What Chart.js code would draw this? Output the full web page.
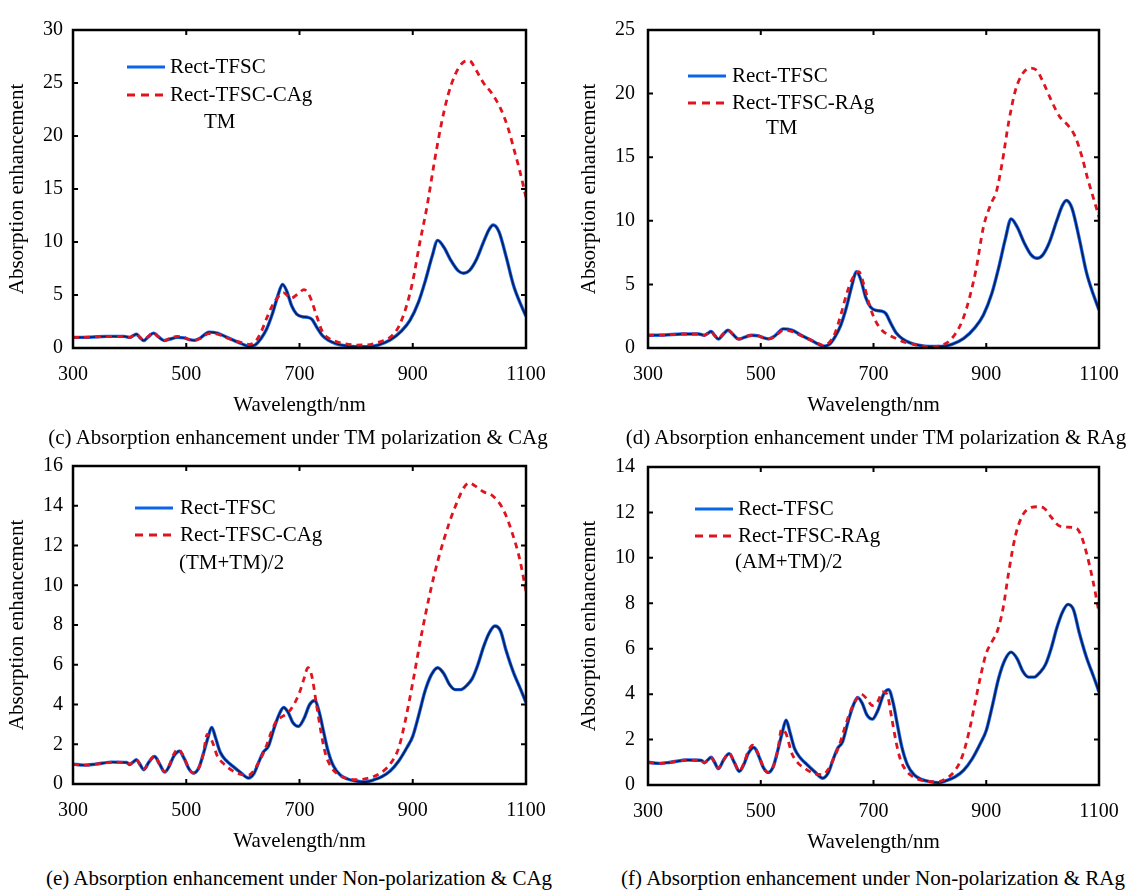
<!DOCTYPE html>
<html>
<head>
<meta charset="utf-8">
<title>Absorption enhancement</title>
<script src="https://cdn.jsdelivr.net/npm/chart.js@4.4.1/dist/chart.umd.min.js"></script>
<style>
  body { margin: 0; background: #fff; }
  #page { position: relative; width: 1136px; height: 895px; overflow: hidden; font-family: 'Liberation Serif', 'Times New Roman', serif; color: #000; }
  .panel { position: absolute; }
  .caption { position: absolute; font-size: 21px; line-height: 1; white-space: nowrap; transform: translateX(-50%); }
</style>
</head>
<body>
<div id="page">
  <span style="position:absolute;left:39px;top:-4px;font-size:14px">`</span>
  <canvas id="chartC" class="panel" width="568" height="420" style="left:0;top:0"></canvas>
  <canvas id="chartD" class="panel" width="568" height="420" style="left:568px;top:0"></canvas>
  <canvas id="chartE" class="panel" width="568" height="420" style="left:0;top:436px"></canvas>
  <canvas id="chartF" class="panel" width="568" height="420" style="left:568px;top:437px"></canvas>
  <div class="caption" style="left:298px;top:427px">(c) Absorption enhancement under TM polarization &amp; CAg</div>
  <div class="caption" style="left:876px;top:427px">(d) Absorption enhancement under TM polarization &amp; RAg</div>
  <div class="caption" style="left:299px;top:868px">(e) Absorption enhancement under Non-polarization &amp; CAg</div>
  <div class="caption" style="left:873px;top:868px">(f) Absorption enhancement under Non-polarization &amp; RAg</div>
</div>
<script>
// values (wavelength in nm, absorption enhancement)

// Rect-TFSC, TM polarization (panels c and d)
var tmBaseWl = [300, 330, 360, 390, 400, 406, 412, 418, 425, 433, 442, 450, 461, 472, 484, 496, 505, 514, 525, 540, 555, 570, 585, 598, 611, 622, 632, 642, 652, 661, 670, 678, 686, 695, 705, 714, 722, 730, 740, 752, 765, 780, 800, 820, 840, 860, 880, 895, 910, 922, 934, 944, 955, 967, 980, 990, 1000, 1012, 1025, 1035, 1042, 1052, 1065, 1078, 1090, 1100];
var tmBaseVal = [1.0, 1.02, 1.1, 1.1, 1.0, 1.15, 1.3, 1.0, 0.7, 1.05, 1.4, 1.1, 0.7, 0.85, 1.0, 0.95, 0.8, 0.72, 0.95, 1.5, 1.4, 1.05, 0.7, 0.4, 0.15, 0.3, 0.9, 1.8, 3.2, 4.8, 6.0, 5.3, 4.0, 3.2, 2.95, 2.9, 2.7, 2.0, 1.2, 0.7, 0.4, 0.22, 0.12, 0.12, 0.3, 0.75, 1.6, 2.6, 4.3, 6.3, 8.6, 10.15, 9.5, 8.3, 7.3, 7.05, 7.3, 8.3, 10.0, 11.2, 11.6, 11.0, 8.6, 5.9, 4.2, 3.0];

// Rect-TFSC-CAg, TM (panel c)
var tmCagWl = [300, 330, 360, 390, 400, 406, 412, 418, 425, 433, 442, 450, 461, 472, 484, 496, 505, 514, 525, 540, 555, 570, 585, 598, 611, 622, 632, 642, 652, 662, 672, 685, 697, 708, 718, 728, 740, 752, 765, 780, 800, 820, 840, 860, 875, 888, 900, 912, 925, 938, 950, 962, 975, 988, 1000, 1012, 1025, 1040, 1055, 1068, 1080, 1090, 1100];
var tmCagVal = [1.0, 1.02, 1.1, 1.1, 1.0, 1.15, 1.3, 1.0, 0.75, 1.1, 1.45, 1.1, 0.7, 0.95, 1.1, 1.0, 0.8, 0.72, 0.9, 1.35, 1.3, 1.0, 0.7, 0.5, 0.35, 0.6, 1.5, 2.8, 4.0, 4.8, 5.2, 4.7, 5.1, 5.5, 4.9, 3.4, 1.6, 0.9, 0.6, 0.4, 0.28, 0.3, 0.55, 1.0, 2.0, 3.8, 6.3, 9.8, 13.3, 17.5, 21.0, 23.8, 25.8, 26.9, 27.1, 26.2, 25.0, 24.0, 22.6, 20.8, 18.5, 16.5, 14.2];

// Rect-TFSC-RAg, TM (panel d)
var tmRagWl = [300, 330, 360, 390, 400, 406, 412, 418, 425, 433, 442, 450, 461, 472, 484, 496, 505, 514, 525, 540, 555, 570, 585, 598, 611, 622, 632, 642, 652, 662, 674, 684, 694, 704, 715, 728, 740, 752, 765, 780, 800, 815, 830, 845, 858, 870, 882, 895, 908, 918, 928, 940, 952, 965, 978, 990, 1002, 1015, 1030, 1045, 1058, 1070, 1080, 1090, 1100];
var tmRagVal = [1.0, 1.02, 1.1, 1.1, 1.0, 1.15, 1.3, 1.0, 0.75, 1.1, 1.4, 1.1, 0.7, 0.9, 1.0, 0.95, 0.8, 0.72, 0.9, 1.4, 1.3, 1.0, 0.7, 0.45, 0.2, 0.45, 1.2, 2.6, 4.2, 5.4, 6.0, 4.8, 3.2, 2.1, 1.4, 1.0, 0.75, 0.5, 0.35, 0.2, 0.1, 0.15, 0.4, 1.1, 2.2, 3.9, 6.2, 9.5, 11.3, 12.3, 14.5, 17.8, 20.3, 21.6, 22.0, 21.8, 20.8, 19.5, 18.2, 17.5, 16.6, 15.0, 13.3, 11.8, 10.3];

// Rect-TFSC, non-polarization (panels e and f)
var npBaseWl = [300, 320, 340, 370, 395, 400, 406, 412, 418, 425, 434, 444, 453, 462, 470, 478, 488, 496, 505, 513, 522, 530, 538, 545, 552, 560, 570, 582, 595, 610, 620, 628, 636, 645, 655, 664, 672, 680, 688, 698, 708, 718, 727, 735, 742, 750, 760, 772, 785, 800, 815, 830, 845, 860, 875, 890, 900, 910, 922, 933, 944, 955, 965, 975, 985, 995, 1005, 1015, 1025, 1035, 1045, 1055, 1065, 1078, 1090, 1100];
var npBaseVal = [1.0, 0.95, 1.0, 1.1, 1.08, 0.98, 1.1, 1.22, 1.0, 0.72, 1.1, 1.38, 1.0, 0.6, 0.9, 1.4, 1.65, 1.3, 0.75, 0.55, 0.8, 1.5, 2.3, 2.85, 2.3, 1.6, 1.2, 0.9, 0.6, 0.3, 0.55, 1.1, 1.6, 1.9, 2.8, 3.5, 3.85, 3.6, 3.1, 2.9, 3.3, 4.0, 4.2, 3.6, 2.7, 1.7, 0.9, 0.45, 0.25, 0.15, 0.1, 0.2, 0.36, 0.65, 1.15, 1.85, 2.4, 3.4, 4.7, 5.5, 5.85, 5.55, 5.0, 4.75, 4.75, 4.95, 5.3, 6.0, 6.9, 7.6, 7.95, 7.7, 6.7, 5.6, 4.8, 4.1];

// Rect-TFSC-CAg, (TM+TM)/2 (panel e)
var npCagWl = [300, 320, 340, 370, 395, 400, 406, 412, 418, 425, 434, 444, 453, 462, 470, 478, 486, 496, 505, 513, 522, 530, 537, 545, 555, 565, 580, 595, 610, 620, 630, 640, 650, 660, 670, 680, 690, 700, 708, 715, 722, 730, 738, 746, 755, 765, 780, 800, 820, 840, 860, 875, 887, 900, 916, 932, 945, 964, 980, 990, 1000, 1010, 1025, 1041, 1060, 1076, 1089, 1100];
var npCagVal = [1.0, 0.95, 1.0, 1.1, 1.08, 0.98, 1.1, 1.22, 1.0, 0.75, 1.1, 1.4, 1.0, 0.62, 0.95, 1.5, 1.75, 1.35, 0.75, 0.55, 0.8, 1.5, 2.5, 2.2, 1.4, 1.05, 0.7, 0.5, 0.45, 0.7, 1.2, 1.8, 2.6, 3.2, 3.4, 3.6, 4.0, 4.6, 5.3, 5.85, 5.4, 4.0, 2.6, 1.5, 0.9, 0.55, 0.3, 0.22, 0.28, 0.5, 1.0, 1.8, 3.2, 5.1, 7.6, 9.8, 11.3, 13.1, 14.3, 14.9, 15.15, 15.0, 14.7, 14.5, 13.8, 12.6, 11.3, 9.7];

// Rect-TFSC-RAg, (AM+TM)/2 (panel f)
var npRagWl = [300, 320, 340, 370, 395, 400, 406, 412, 418, 425, 434, 444, 453, 462, 470, 478, 486, 496, 505, 513, 522, 530, 537, 545, 555, 565, 580, 595, 610, 620, 630, 640, 650, 660, 668, 678, 688, 698, 708, 716, 724, 732, 740, 748, 756, 765, 780, 800, 815, 830, 845, 858, 870, 880, 890, 900, 910, 920, 930, 940, 952, 965, 978, 990, 1002, 1015, 1030, 1045, 1060, 1068, 1078, 1090, 1100];
var npRagVal = [1.0, 0.95, 1.0, 1.1, 1.08, 0.98, 1.1, 1.22, 1.0, 0.75, 1.1, 1.4, 1.0, 0.62, 0.95, 1.5, 1.75, 1.35, 0.75, 0.55, 0.8, 1.5, 2.45, 2.25, 1.4, 1.0, 0.7, 0.5, 0.45, 0.7, 1.2, 1.8, 2.6, 3.3, 3.7, 4.0, 3.8, 3.5, 3.7, 4.1, 4.0, 3.0, 1.9, 1.1, 0.7, 0.45, 0.25, 0.15, 0.15, 0.3, 0.65, 1.3, 2.4, 3.6, 4.8, 5.8, 6.3, 6.8, 7.8, 9.4, 11.0, 11.9, 12.2, 12.25, 12.2, 11.8, 11.4, 11.35, 11.3, 11.0, 10.2, 8.9, 7.6];

var xTicks = [300, 500, 700, 900, 1100];

var FONT = "'Liberation Serif', 'Times New Roman', serif";
var BLUE = '#1a6cff';
var NAVY = '#0a1f55';
var RED = '#e0141e';

function pts(xs, ys) {
    return xs.map(function (x, i) { return { x: x, y: ys[i] }; });
}

// box round the plot, inward ticks on all four sides, and the legend inside
var framePlugin = {
    id: 'frame',
    afterDatasetsDraw: function (chart) {
        var ctx = chart.ctx;
        var a = chart.chartArea;
        var xs = chart.scales.x, ys = chart.scales.y;
        ctx.save();
        ctx.strokeStyle = '#000';
        ctx.lineWidth = 2;
        xs.ticks.forEach(function (t) {
            var px = xs.getPixelForValue(t.value);
            ctx.beginPath();
            ctx.moveTo(px, a.bottom); ctx.lineTo(px, a.bottom - 5);
            ctx.moveTo(px, a.top); ctx.lineTo(px, a.top + 5);
            ctx.stroke();
        });
        ys.ticks.forEach(function (t) {
            var py = ys.getPixelForValue(t.value);
            ctx.beginPath();
            ctx.moveTo(a.left, py); ctx.lineTo(a.left + 5, py);
            ctx.moveTo(a.right, py); ctx.lineTo(a.right - 5, py);
            ctx.stroke();
        });
        ctx.lineWidth = 2.5;
        ctx.strokeRect(a.left, a.top, a.right - a.left, a.bottom - a.top);
        ctx.restore();
    },
    afterDraw: function (chart, args, opts) {
        var ctx = chart.ctx;
        var a = chart.chartArea;
        var lg = opts.legend;
        var entries = chart.data.datasets.filter(function (d) { return d.inLegend; });
        entries.sort(function (p, q) { return p.legendRow - q.legendRow; });
        ctx.save();
        ctx.font = '21px ' + FONT;
        ctx.fillStyle = '#000';
        ctx.textBaseline = 'middle';
        entries.forEach(function (d, i) {
            var y = a.top + lg.dy + i * lg.gap;
            ctx.beginPath();
            ctx.strokeStyle = d.legendColor;
            ctx.lineWidth = 3;
            ctx.setLineDash(d.legendDash || []);
            ctx.moveTo(a.left + lg.dx, y);
            ctx.lineTo(a.left + lg.dx + 38, y);
            ctx.stroke();
            ctx.fillText(d.label, a.left + lg.textDx, y);
        });
        ctx.fillText(lg.note, a.left + lg.noteDx, a.top + lg.noteDy);
        ctx.restore();
    }
};

function makePanel(id, p) {
    var datasets = [
        { label: p.redLabel, data: pts(p.redWl, p.redVal), borderColor: RED, borderWidth: 2.8, borderDash: [6, 5], order: 0,
          inLegend: true, legendRow: 1, legendColor: RED, legendDash: [8, 6] },
        { label: 'Rect-TFSC', data: pts(p.baseWl, p.baseVal), borderColor: NAVY, borderWidth: 1.8, order: 1 },
        { label: 'Rect-TFSC', data: pts(p.baseWl, p.baseVal), borderColor: BLUE, borderWidth: 3.4, order: 2,
          inLegend: true, legendRow: 0, legendColor: '#0a66e8' }
    ];
    datasets.forEach(function (d) {
        d.pointRadius = 0;
        d.fill = false;
        d.cubicInterpolationMode = 'monotone';
    });
    return new Chart(document.getElementById(id), {
        type: 'line',
        data: { datasets: datasets },
        options: {
            responsive: false,
            animation: false,
            events: [],
            layout: { padding: { top: 30, right: p.rightPad, left: 0, bottom: 0 } },
            plugins: {
                legend: { display: false },
                tooltip: { enabled: false },
                frame: { legend: p.legend }
            },
            scales: {
                x: {
                    type: 'linear', min: 300, max: 1100,
                    afterBuildTicks: function (s) { s.ticks = xTicks.map(function (v) { return { value: v }; }); },
                    ticks: { padding: 15, color: '#000', maxRotation: 0, font: { size: 20, family: FONT },
                             callback: function (v) { return String(v); } },
                    grid: { display: false, drawTicks: false },
                    border: { display: false },
                    title: { display: true, text: 'Wavelength/nm', color: '#000', font: { size: 21, family: FONT },
                             padding: { top: 0, bottom: 2 } },
                    afterFit: function (s) { s.height = 72; }
                },
                y: {
                    min: 0, max: p.yMax,
                    ticks: { stepSize: p.yStep, padding: p.yPad, color: '#000', font: { size: 20, family: FONT } },
                    grid: { display: false, drawTicks: false },
                    border: { display: false },
                    title: { display: true, text: 'Absorption enhancement', color: '#000', font: { size: 21, family: FONT },
                             padding: { top: p.yTitlePad, bottom: 0 } },
                    afterFit: function (s) { s.width = p.yWidth; }
                }
            }
        },
        plugins: [framePlugin]
    });
}

makePanel('chartC', {
    baseWl: tmBaseWl, baseVal: tmBaseVal, redWl: tmCagWl, redVal: tmCagVal, redLabel: 'Rect-TFSC-CAg',
    yMax: 30, yStep: 5, yWidth: 73, rightPad: 42, yPad: 10, yTitlePad: 5,
    legend: { dx: 54, textDx: 97, dy: 37, gap: 28, note: 'TM', noteDx: 131, noteDy: 92 }
});
makePanel('chartD', {
    baseWl: tmBaseWl, baseVal: tmBaseVal, redWl: tmRagWl, redVal: tmRagVal, redLabel: 'Rect-TFSC-RAg',
    yMax: 25, yStep: 5, yWidth: 80, rightPad: 37, yPad: 13, yTitlePad: 9,
    legend: { dx: 40, textDx: 84, dy: 46, gap: 27, note: 'TM', noteDx: 118, noteDy: 98 }
});
makePanel('chartE', {
    baseWl: npBaseWl, baseVal: npBaseVal, redWl: npCagWl, redVal: npCagVal, redLabel: 'Rect-TFSC-CAg',
    yMax: 16, yStep: 2, yWidth: 73, rightPad: 42, yPad: 10, yTitlePad: 5,
    legend: { dx: 62, textDx: 107, dy: 42, gap: 27, note: '(TM+TM)/2', noteDx: 106, noteDy: 97 }
});
makePanel('chartF', {
    baseWl: npBaseWl, baseVal: npBaseVal, redWl: npRagWl, redVal: npRagVal, redLabel: 'Rect-TFSC-RAg',
    yMax: 14, yStep: 2, yWidth: 80, rightPad: 37, yPad: 13, yTitlePad: 9,
    legend: { dx: 47, textDx: 90, dy: 42, gap: 27, note: '(AM+TM)/2', noteDx: 87, noteDy: 95 }
});
</script>
</body>
</html>
